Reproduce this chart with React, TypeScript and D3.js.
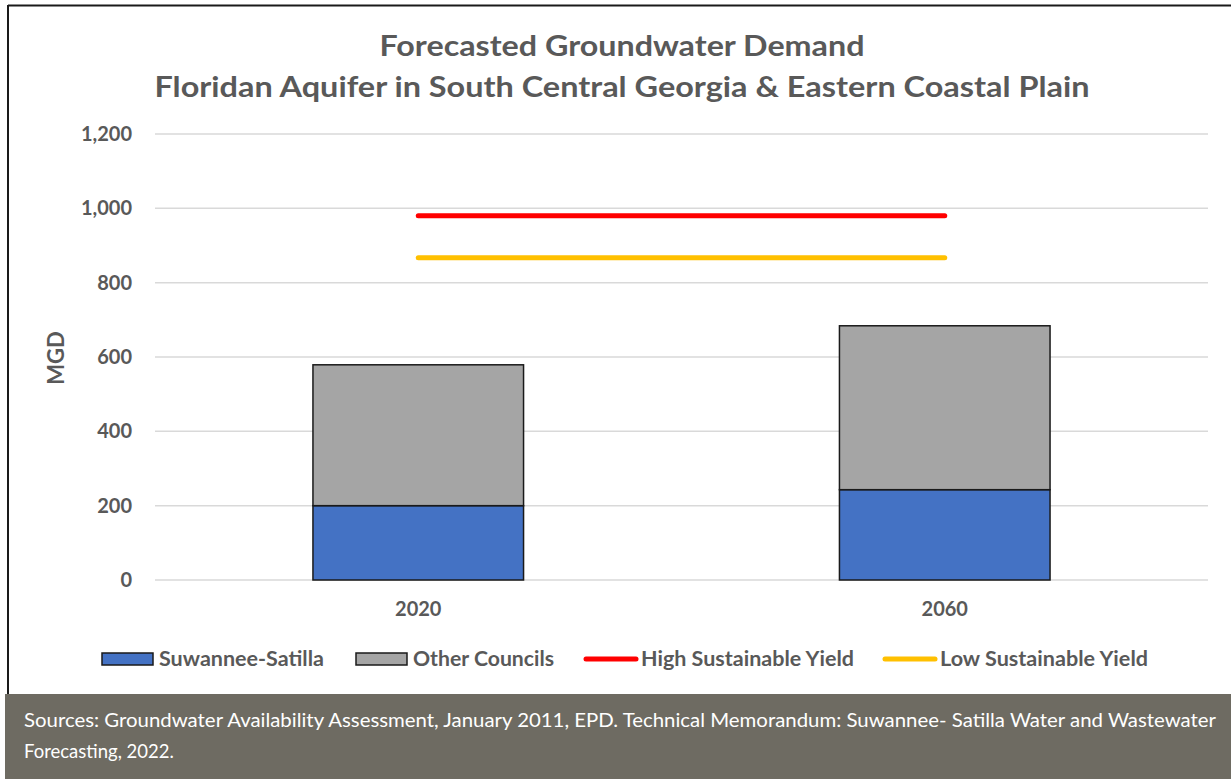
import React, { useEffect, useRef } from 'react';
import * as d3 from 'd3';

// chart values
const categories = ['2020', '2060'];
const suwanneeSatilla = [200, 243];
const otherCouncils = [379, 441];
const highSustainableYield = [980, 980];
const lowSustainableYield = [867, 867];
const yTicks = [0, 200, 400, 600, 800, 1000, 1200];

const titleLines = ['Forecasted Groundwater Demand', 'Floridan Aquifer in South Central Georgia & Eastern Coastal Plain'];
const sourceLines = [
    'Sources: Groundwater Availability Assessment, January 2011, EPD. Technical Memorandum: Suwannee- Satilla Water and Wastewater',
    'Forecasting, 2022.',
];

const legendItems = [
    { label: 'Suwannee-Satilla', kind: 'box', color: '#4472C4' },
    { label: 'Other Councils', kind: 'box', color: '#A5A5A5' },
    { label: 'High Sustainable Yield', kind: 'line', color: '#FF0000' },
    { label: 'Low Sustainable Yield', kind: 'line', color: '#FFC000' },
];

const App: React.FC = () => {
    const svgRef = useRef<SVGSVGElement | null>(null);

    useEffect(() => {
        if (!svgRef.current) return;
        const width = 1231;
        const height = 779;
        const font = 'Lato, "Open Sans", sans-serif';
        const textColor = '#595959';

        const svg = d3.select(svgRef.current);
        svg.selectAll('*').remove();

        // frame
        svg.append('rect').attr('x', 0).attr('y', 0).attr('width', width).attr('height', height).attr('fill', '#fff');
        svg.append('line').attr('x1', 8).attr('x2', width).attr('y1', 5.5).attr('y2', 5.5).attr('stroke', '#1a1a1a').attr('stroke-width', 2);
        svg.append('line').attr('x1', 8).attr('x2', 8).attr('y1', 5).attr('y2', 694).attr('stroke', '#1a1a1a').attr('stroke-width', 2);

        const plot = { left: 155, right: 1208, top: 134, bottom: 580 };

        const x = d3.scaleBand<string>().domain(categories).range([plot.left, plot.right]).padding(0);
        const y = d3.scaleLinear().domain([0, 1200]).range([plot.bottom, plot.top]);
        const barWidth = x.bandwidth() * 0.4;

        // title
        const titleWidths = [485, 935];
        titleLines.forEach((t, i) => {
            svg.append('text')
                .attr('x', 622)
                .attr('y', 56 + i * 41)
                .attr('text-anchor', 'middle')
                .attr('font-family', font)
                .attr('font-weight', 700)
                .attr('font-size', 28)
                .attr('fill', textColor)
                .attr('textLength', titleWidths[i])
                .attr('lengthAdjust', 'spacingAndGlyphs')
                .text(t);
        });

        // gridlines
        svg.append('g')
            .selectAll('line')
            .data(yTicks)
            .join('line')
            .attr('x1', plot.left)
            .attr('x2', plot.right)
            .attr('y1', d => y(d))
            .attr('y2', d => y(d))
            .attr('stroke', '#d9d9d9')
            .attr('stroke-width', 1.5);

        // y tick labels
        svg.append('g')
            .selectAll('text')
            .data(yTicks)
            .join('text')
            .attr('x', 132)
            .attr('y', d => y(d))
            .attr('dy', '0.35em')
            .attr('text-anchor', 'end')
            .attr('font-family', font)
            .attr('font-weight', 700)
            .attr('font-size', 20)
            .attr('fill', textColor)
            .text(d => d3.format(',')(d));

        svg.append('text')
            .attr('transform', `translate(64,358) rotate(-90)`)
            .attr('text-anchor', 'middle')
            .attr('font-family', font)
            .attr('font-weight', 700)
            .attr('font-size', 22)
            .attr('fill', textColor)
            .text('MGD');

        // stacked bars
        const stackData = categories.map((c, i) => ({ category: c, suwannee: suwanneeSatilla[i], other: otherCouncils[i] }));
        const series = d3.stack<any>().keys(['suwannee', 'other'])(stackData);
        const fills = ['#4472C4', '#A5A5A5'];
        series.forEach((s, si) => {
            svg.append('g')
                .selectAll('rect')
                .data(s)
                .join('rect')
                .attr('x', d => (x(d.data.category) as number) + (x.bandwidth() - barWidth) / 2)
                .attr('width', barWidth)
                .attr('y', d => y(d[1]))
                .attr('height', d => y(d[0]) - y(d[1]))
                .attr('fill', fills[si])
                .attr('stroke', '#1a1a1a')
                .attr('stroke-width', 1.5);
        });

        // category labels
        svg.append('g')
            .selectAll('text')
            .data(categories)
            .join('text')
            .attr('x', d => (x(d) as number) + x.bandwidth() / 2)
            .attr('y', 616)
            .attr('text-anchor', 'middle')
            .attr('font-family', font)
            .attr('font-weight', 700)
            .attr('font-size', 20)
            .attr('fill', textColor)
            .text(d => d);

        // sustainable yield lines
        const yieldLine = d3.line<number>()
            .x((_, i) => (x(categories[i]) as number) + x.bandwidth() / 2)
            .y(d => y(d));
        [[highSustainableYield, '#FF0000'], [lowSustainableYield, '#FFC000']].forEach(([vals, color]) => {
            svg.append('path')
                .attr('d', yieldLine(vals as number[]))
                .attr('fill', 'none')
                .attr('stroke', color as string)
                .attr('stroke-width', 5)
                .attr('stroke-linecap', 'round');
        });

        // legend
        const legendX = [102, 356, 584, 883];
        const legendTextW = [165, 141, 213, 208];
        const legendY = 659;
        legendItems.forEach((d, i) => {
            const lx = legendX[i];
            if (d.kind === 'box') {
                svg.append('rect')
                    .attr('x', lx).attr('y', legendY - 6).attr('width', 51).attr('height', 12)
                    .attr('fill', d.color).attr('stroke', '#1a1a1a').attr('stroke-width', 1.5);
            } else {
                svg.append('line')
                    .attr('x1', lx + 2).attr('x2', lx + 52).attr('y1', legendY).attr('y2', legendY)
                    .attr('stroke', d.color).attr('stroke-width', 5).attr('stroke-linecap', 'round');
            }
            svg.append('text')
                .attr('x', lx + 57)
                .attr('y', legendY)
                .attr('dy', '0.36em')
                .attr('font-family', font)
                .attr('font-weight', 700)
                .attr('font-size', 20)
                .attr('fill', textColor)
                .attr('textLength', legendTextW[i])
                .attr('lengthAdjust', 'spacingAndGlyphs')
                .text(d.label);
        });

        // sources footer
        svg.append('rect').attr('x', 5).attr('y', 694).attr('width', width - 5).attr('height', height - 694).attr('fill', '#6E6B62');
        sourceLines.forEach((t, i) => {
            const txt = svg.append('text')
                .attr('x', 24)
                .attr('y', 727 + i * 31)
                .attr('font-family', font)
                .attr('font-size', 18.5)
                .attr('fill', '#ffffff')
                .text(t);
            if (i === 0) txt.attr('textLength', 1192).attr('lengthAdjust', 'spacingAndGlyphs');
        });
    }, []);

    return (
        <div style={{ position: 'absolute', left: 0, top: 0 }}>
            <svg ref={svgRef} width={1231} height={779} style={{ display: 'block' }} />
        </div>
    );
};

export default App;
